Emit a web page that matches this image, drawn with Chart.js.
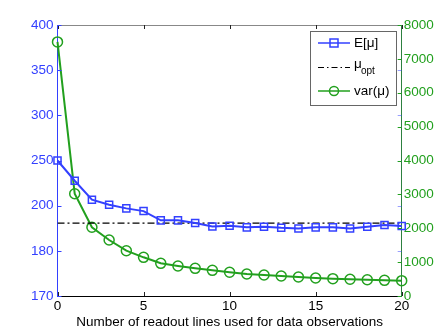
<!DOCTYPE html>
<html lang="en">
  <head>
    <meta charset="UTF-8" />
    <title>Readout lines</title>
    <script src="https://cdn.jsdelivr.net/npm/chart.js"></script>
    <style>
      body {
        margin: 0;
        background: #ffffff;
      }
    </style>
  </head>
  <body>
    <canvas id="chart" width="443" height="333"></canvas>

    <script>
      // x: number of readout lines
      const lines = [0, 1, 2, 3, 4, 5, 6, 7, 8, 9, 10, 11, 12, 13, 14, 15, 16, 17, 18, 19, 20];
      // E[mu] on the left axis (uneven tick labels)
      const meanMu = [250, 227.6, 206.6, 201, 198.8, 197.6, 193.5, 193.5, 192.3, 190.8, 191.1,
        190.4, 190.7, 190.2, 189.9, 190.4, 190.4, 189.9, 190.7, 191.4, 191.0];
      const muOpt = 192.3;
      // var(mu) on the right axis
      const varMu = [7500, 3020, 2028, 1653, 1337, 1142, 965, 886, 817, 758, 700,
        649, 620, 590, 561, 531, 511, 493, 481, 463, 452];
      const leftTicks = [170, 180, 200, 250, 300, 350, 400];
      const rightTicks = [0, 1000, 2000, 3000, 4000, 5000, 6000, 7000, 8000];
      const xTicks = [0, 5, 10, 15, 20];

      const BLUE = "#3340ff";
      const GREEN = "#22a01e";
      const FONT = "'Liberation Sans', Arial, sans-serif";

      // left axis is evenly spaced over its tick labels
      function toPos(v) {
        for (let i = 0; i < leftTicks.length - 1; i++) {
          if (v <= leftTicks[i + 1]) {
            return i + (v - leftTicks[i]) / (leftTicks[i + 1] - leftTicks[i]);
          }
        }
        return leftTicks.length - 1;
      }

      const ticksPlugin = {
        id: "matlabTicks",
        afterDraw(chart) {
          const c = chart.ctx;
          const a = chart.chartArea;
          const x = chart.scales.x, yl = chart.scales.yl, yr = chart.scales.yr;
          const len = 4;
          c.save();
          c.lineWidth = 1;
          // top border
          c.strokeStyle = "#888888";
          c.beginPath();
          c.moveTo(a.left, a.top + 0.5);
          c.lineTo(a.right, a.top + 0.5);
          c.stroke();
          // x ticks (bottom and top)
          c.strokeStyle = "#222222";
          xTicks.forEach((t) => {
            const px = Math.round(x.getPixelForValue(t)) + 0.5;
            c.beginPath();
            c.moveTo(px, a.bottom);
            c.lineTo(px, a.bottom - len);
            c.moveTo(px, a.top);
            c.lineTo(px, a.top + len);
            c.stroke();
          });
          // left ticks, on both sides
          c.strokeStyle = BLUE;
          leftTicks.forEach((t, i) => {
            const py = Math.round(yl.getPixelForValue(i)) + 0.5;
            c.beginPath();
            c.moveTo(a.left, py);
            c.lineTo(a.left + len, py);
            c.stroke();
            c.globalAlpha = 0.5;
            c.beginPath();
            c.moveTo(a.right, py);
            c.lineTo(a.right - len, py);
            c.stroke();
            c.globalAlpha = 1;
          });
          // right ticks
          c.strokeStyle = GREEN;
          rightTicks.forEach((t) => {
            const py = Math.round(yr.getPixelForValue(t)) + 0.5;
            c.beginPath();
            c.moveTo(a.right, py);
            c.lineTo(a.right - len, py);
            c.stroke();
          });
          c.restore();
        },
      };

      const legendPlugin = {
        id: "boxLegend",
        afterDraw(chart) {
          const c = chart.ctx;
          const bx = 310, by = 31, bw = 86, bh = 74;
          c.save();
          c.fillStyle = "#ffffff";
          c.fillRect(bx, by, bw, bh);
          c.strokeStyle = "#666666";
          c.lineWidth = 1;
          c.strokeRect(bx + 0.5, by + 0.5, bw, bh);
          const rows = [43, 67, 91];
          const x0 = 318, x1 = 350, tx = 354;
          // E[mu]
          c.strokeStyle = BLUE;
          c.lineWidth = 1.5;
          c.beginPath();
          c.moveTo(x0, rows[0]);
          c.lineTo(x1, rows[0]);
          c.stroke();
          c.strokeRect(330, rows[0] - 4, 8, 8);
          // mu_opt
          c.strokeStyle = "#000000";
          c.lineWidth = 1;
          c.setLineDash([6, 3, 1.5, 3]);
          c.beginPath();
          c.moveTo(x0, rows[1] + 0.5);
          c.lineTo(x1, rows[1] + 0.5);
          c.stroke();
          c.setLineDash([]);
          // var(mu)
          c.strokeStyle = GREEN;
          c.lineWidth = 1.5;
          c.beginPath();
          c.moveTo(x0, rows[2]);
          c.lineTo(x1, rows[2]);
          c.stroke();
          c.beginPath();
          c.arc(334, rows[2], 4.5, 0, Math.PI * 2);
          c.stroke();
          // text
          c.fillStyle = "#000000";
          c.textBaseline = "middle";
          c.textAlign = "left";
          c.font = "13.5px " + FONT;
          c.fillText("E[\u03bc]", tx, rows[0]);
          c.fillText("\u03bc", tx, rows[1] - 3);
          c.font = "10px " + FONT;
          c.fillText("opt", tx + 7, rows[1] + 4);
          c.font = "13.5px " + FONT;
          c.fillText("var(\u03bc)", tx, rows[2]);
          c.restore();
        },
      };

      new Chart(document.getElementById("chart"), {
        type: "line",
        data: {
          datasets: [
            {
              label: "E[\u03bc]",
              data: lines.map((v, i) => ({ x: v, y: toPos(meanMu[i]) })),
              yAxisID: "yl",
              borderColor: BLUE,
              borderWidth: 2,
              pointStyle: "rect",
              pointRadius: 5,
              pointBorderWidth: 1.5,
              pointBackgroundColor: "rgba(0,0,0,0)",
              pointBorderColor: BLUE,
              clip: false,
            },
            {
              label: "\u03bc_opt",
              data: [
                { x: lines[0], y: toPos(muOpt) },
                { x: lines[lines.length - 1], y: toPos(muOpt) },
              ],
              yAxisID: "yl",
              borderColor: "#000000",
              borderWidth: 1.2,
              borderDash: [7, 3, 2, 3],
              pointRadius: 0,
            },
            {
              label: "var(\u03bc)",
              data: lines.map((v, i) => ({ x: v, y: varMu[i] })),
              yAxisID: "yr",
              borderColor: GREEN,
              borderWidth: 2,
              pointStyle: "circle",
              pointRadius: 5,
              pointBorderWidth: 1.5,
              pointBackgroundColor: "rgba(0,0,0,0)",
              pointBorderColor: GREEN,
              clip: false,
            },
          ],
        },
        options: {
          responsive: false,
          animation: false,
          devicePixelRatio: 1,
          layout: { padding: { top: 25, left: 0, right: 0, bottom: 0 } },
          plugins: {
            legend: { display: false },
            tooltip: { enabled: false },
          },
          scales: {
            x: {
              type: "linear",
              min: 0,
              max: 20,
              afterFit: (s) => { s.height = 37; },
              afterBuildTicks: (s) => { s.ticks = xTicks.map((v) => ({ value: v })); },
              grid: { display: false, drawTicks: false },
              border: { display: true, color: "#000000", width: 1 },
              ticks: {
                color: "#000000",
                padding: 2,
                font: { size: 13.5, family: FONT },
                callback: (v) => String(v),
              },
              title: {
                display: true,
                text: "Number of readout lines used for data observations",
                color: "#000000",
                font: { size: 13.5, family: FONT },
                padding: { top: 0, bottom: 3 },
              },
            },
            yl: {
              type: "linear",
              position: "left",
              min: 0,
              max: leftTicks.length - 1,
              afterFit: (s) => { s.width = 57.5; },
              afterBuildTicks: (s) => { s.ticks = leftTicks.map((v, i) => ({ value: i })); },
              grid: { display: false, drawTicks: false },
              border: { display: true, color: BLUE, width: 1 },
              ticks: {
                color: BLUE,
                padding: 4,
                font: { size: 13.5, family: FONT },
                callback: (v) => String(leftTicks[v]),
              },
            },
            yr: {
              type: "linear",
              position: "right",
              min: 0,
              max: 8000,
              afterFit: (s) => { s.width = 41.3; },
              afterBuildTicks: (s) => { s.ticks = rightTicks.map((v) => ({ value: v })); },
              grid: { display: false, drawTicks: false },
              border: { display: true, color: "#2d8040", width: 1 },
              ticks: {
                color: GREEN,
                padding: 2,
                font: { size: 13.5, family: FONT },
                callback: (v) => String(v),
              },
            },
          },
        },
        plugins: [ticksPlugin, legendPlugin],
      });
    </script>
  </body>
</html>
